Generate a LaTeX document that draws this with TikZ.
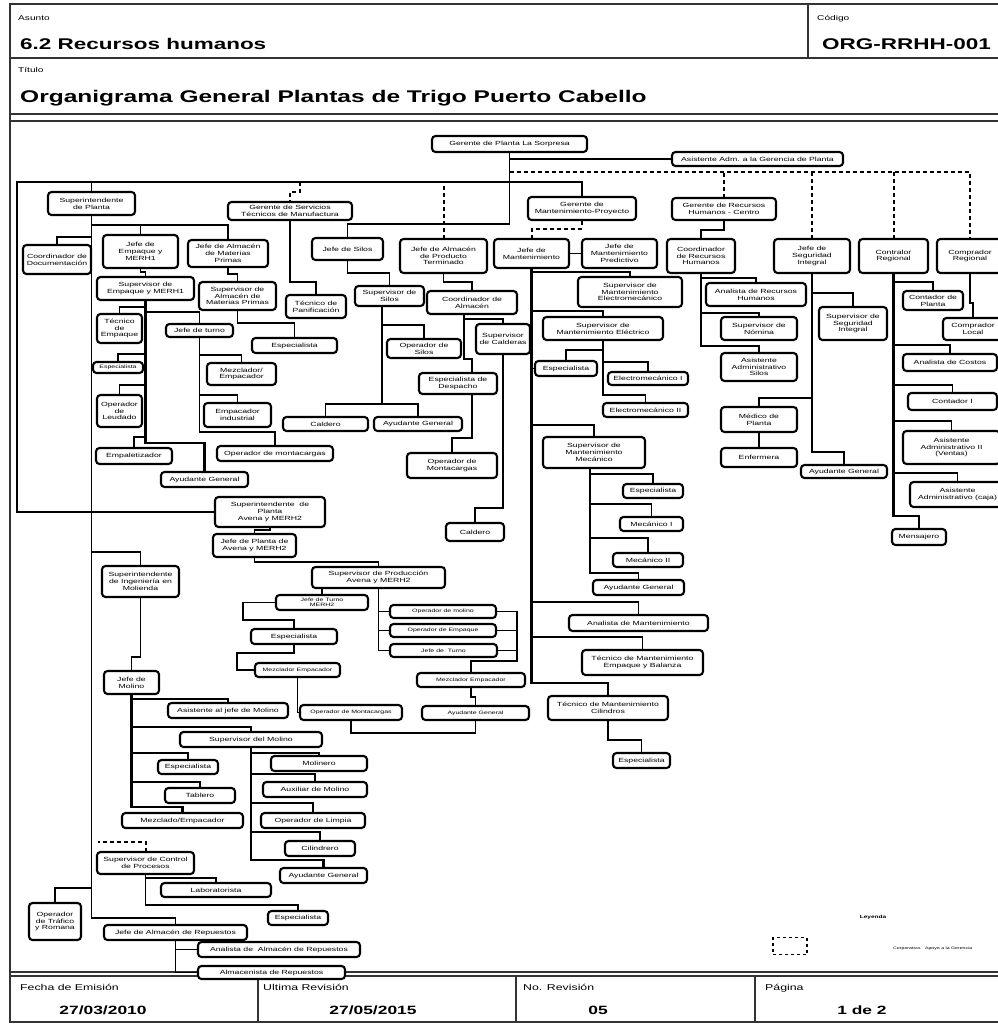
\documentclass[tikz,border=0pt]{standalone}
\usepackage{fontspec}
\setmainfont{Liberation Sans}[FakeStretch=1.45]
\usetikzlibrary{calc}
\pgfdeclarelayer{bg}
\pgfsetlayers{bg,main}
\tikzset{
  bx/.style={draw=black, line width=2.1pt, rounded corners=3.5pt, fill=white, inner sep=0pt, outer sep=0pt, align=center, font=\fontsize{6}{6.8}\selectfont},
  sm/.style={font=\fontsize{4.8}{5.5}\selectfont},
  ln/.style={line width=1.9pt},
  lnb/.style={line width=2.6pt},
  dsh/.style={line width=2pt, dash pattern=on 4pt off 3pt},
  frm/.style={line width=1.8pt, draw=black!80},
  lbl/.style={anchor=base west, inner sep=0pt},
}
\newcommand{\bx}[7][]{%
  \pgfmathsetmacro{\bxw}{#5-#3}\pgfmathsetmacro{\bxh}{#6-#4}%
  \pgfmathsetmacro{\bxx}{(#3+#5)/2}\pgfmathsetmacro{\bxy}{(#4+#6)/2}%
  \node[bx,#1,minimum width=\bxw pt,minimum height=\bxh pt] (#2) at (\bxx,\bxy) {#7};}
\begin{document}
\begin{tikzpicture}[x=1pt,y=-1pt]
\useasboundingbox (0,0) rectangle (998,1025);
\clip (0,0) rectangle (998,1025);

% ---------- header / footer text ----------
\node[lbl, font=\fontsize{7}{8}\selectfont] (tasunto) at (18,21) {Asunto};
\node[lbl, font=\bfseries\fontsize{15.5}{17}\selectfont] (tsub) at (20,49) {6.2 Recursos humanos};
\node[lbl, font=\fontsize{7}{8}\selectfont] (tcod) at (817,21) {Código};
\node[lbl, font=\bfseries\fontsize{15.5}{17}\selectfont] (tcodv) at (822,49) {ORG-RRHH-001};
\node[lbl, font=\fontsize{7}{8}\selectfont] (ttit) at (18,72) {Título};
\node[lbl, font=\bfseries\fontsize{16.9}{18}\selectfont] (ttitv) at (20,102) {Organigrama General Plantas de Trigo Puerto Cabello};

\node[lbl, font=\fontsize{8.5}{9}\selectfont] (f1) at (20,990) {Fecha de Emisión};
\node[lbl, font=\fontsize{8.5}{9}\selectfont] (f2) at (263,990) {Ultima Revisión};
\node[lbl, font=\fontsize{8.5}{9}\selectfont] (f3) at (523,990) {No. Revisión};
\node[lbl, font=\fontsize{8.5}{9}\selectfont] (f4) at (765,990) {Página};
\node[anchor=base, inner sep=0pt, font=\bfseries\fontsize{12}{13}\selectfont] (v1) at (103,1014) {27/03/2010};
\node[anchor=base, inner sep=0pt, font=\bfseries\fontsize{12}{13}\selectfont] (v2) at (373,1014) {27/05/2015};
\node[anchor=base, inner sep=0pt, font=\bfseries\fontsize{12}{13}\selectfont] (v3) at (598,1014) {05};
\node[anchor=base, inner sep=0pt, font=\bfseries\fontsize{12}{13}\selectfont] (v4) at (862,1014) {1 de 2};

% ---------- boxes ----------
\bx{gp}{432}{136}{587}{152}{Gerente de Planta La Sorpresa}
\bx{asis}{672}{152}{843}{166}{Asistente Adm. a la Gerencia de Planta}
\bx{supP}{48}{192}{135}{215}{Superintendente\\de Planta}
\bx{gst}{228}{202}{352}{220}{Gerente de Servicios\\Técnicos de Manufactura}
\bx{gmp}{528}{197}{636}{220}{Gerente de\\Mantenimiento-Proyecto}
\bx{grh}{672}{198}{776}{220}{Gerente de Recursos\\Humanos - Centro}
\bx{cdoc}{23}{245}{91}{274}{Coordinador de\\Documentación}
\bx{jemp}{103}{235}{178}{268}{Jefe de\\Empaque y\\MERH1}
\bx{jamp}{188}{240}{268}{267}{Jefe de Almacén\\de Materias\\Primas}
\bx{jsil}{312}{238}{383}{260}{Jefe de Silos}
\bx{japt}{400}{239}{487}{273}{Jefe de Almacén\\de Producto\\Terminado}
\bx{jman}{494}{239}{569}{268}{Jefe de\\Mantenimiento}
\bx{jmpr}{582}{239}{657}{268}{Jefe de\\Mantenimiento\\Predictivo}
\bx{crh}{667}{239}{735}{273}{Coordinador\\de Recursos\\Humanos}
\bx{jseg}{774}{239}{850}{273}{Jefe de\\Seguridad\\Integral}
\bx{creg}{859}{239}{928}{273}{Contralor\\Regional}
\bx{cpreg}{937}{239}{1003}{273}{Comprador\\Regional}

\bx{supemp}{97}{277}{194}{300}{Supervisor de\\Empaque y MERH1}
\bx{supamp}{199}{282}{276}{310}{Supervisor de\\Almacén de\\Materias Primas}
\bx{tpan}{286}{295}{346}{318}{Técnico de\\Panificación}
\bx{supsil}{355}{286}{424}{306}{Supervisor de\\Silos}
\bx{calm}{427}{291}{517}{314}{Coordinador de\\Almacén}
\bx{smelm}{578}{277}{682}{307}{Supervisor de\\Mantenimiento\\Electromecánico}
\bx{arh}{706}{283}{806}{306}{Analista de Recursos\\Humanos}
\bx{sseg}{819}{307}{887}{340}{Supervisor de\\Seguridad\\Integral}
\bx{cpla}{903}{291}{963}{310}{Contador de\\Planta}
\bx{cloc}{943}{318}{1003}{340}{Comprador\\Local}

\bx{supnom}{721}{317}{797}{340}{Supervisor de\\Nómina}
\bx{smele}{543}{317}{663}{340}{Supervisor de\\Mantenimiento Eléctrico}
\bx{tem}{97}{314}{142}{343}{Técnico\\de\\Empaque}
\bx{jtur}{166}{324}{233}{337}{Jefe de turno}
\bx{supcal}{476}{324}{530}{354}{Supervisor\\de Calderas}
\bx{esp1}{252}{338}{337}{353}{Especialista}
\bx{osil}{387}{339}{461}{358}{Operador de\\Silos}
\bx{aas}{721}{353}{797}{381}{Asistente\\Administrativo\\Silos}
\bx{acos}{903}{354}{997}{371}{Analista de Costos}
\bx[sm]{esp2}{93}{362}{143}{373}{Especialista}
\bx{mez1}{207}{363}{276}{385}{Mezclador/\\Empacador}
\bx{esp3}{535}{361}{597}{376}{Especialista}
\bx{edesp}{419}{373}{497}{394}{Especialista de\\Despacho}
\bx{elm1}{608}{372}{688}{385}{Electromecánico I}
\bx{cont1}{908}{393}{997}{410}{Contador I}
\bx{oleu}{97}{395}{142}{427}{Operador\\de\\Leudado}
\bx{eind}{204}{403}{271}{427}{Empacador\\industrial}
\bx{elm2}{603}{403}{688}{417}{Electromecánico II}
\bx{med}{721}{407}{797}{432}{Médico de\\Planta}
\bx{cald1}{283}{417}{368}{431}{Caldero}
\bx{ayg1}{374}{417}{462}{431}{Ayudante General}
\bx{aa2}{903}{431}{1000}{464}{Asistente\\Administrativo II\\(Ventas)}
\bx{smec}{543}{437}{645}{468}{Supervisor de\\Mantenimiento\\Mecánico}
\bx{omon1}{217}{446}{333}{461}{Operador de montacargas}
\bx{empal}{96}{448}{172}{464}{Empaletizador}
\bx{enf}{721}{448}{797}{467}{Enfermera}
\bx{omon2}{407}{453}{497}{478}{Operador de\\Montacargas}
\bx{ayg2}{801}{465}{887}{478}{Ayudante General}
\bx{ayg3}{161}{472}{248}{487}{Ayudante General}
\bx{aac}{910}{482}{1005}{507}{Asistente\\Administrativo (caja)}
\bx{esp4}{623}{484}{683}{498}{Especialista}
\bx{supav}{215}{497}{325}{527}{Superintendente~ de\\Planta\\Avena y MERH2}
\bx{mec1}{620}{517}{683}{531}{Mecánico I}
\bx{cald2}{446}{523}{504}{541}{Caldero}
\bx{mens}{892}{529}{946}{545}{Mensajero}
\bx{jpav}{213}{534}{296}{557}{Jefe de Planta de\\Avena y MERH2}
\bx{mec2}{613}{553}{683}{567}{Mecánico II}
\bx{sinm}{102}{566}{179}{597}{Superintendente\\de Ingeniería en\\Molienda}
\bx{sprod}{312}{567}{445}{588}{Supervisor de Producción\\Avena y MERH2}
\bx{ayg4}{593}{580}{684}{595}{Ayudante General}
\bx[sm]{jtm}{276}{595}{368}{610}{Jefe de Turno\\MERH2}
\bx[sm]{omol}{390}{605}{496}{618}{Operador de molino}
\bx{aman}{569}{615}{708}{631}{Analista de Mantenimiento}
\bx[sm]{oemp}{390}{624}{496}{637}{Operador de Empaque}
\bx{esp5}{251}{629}{337}{644}{Especialista}
\bx[sm]{jt2}{390}{644}{497}{657}{Jefe de~ Turno}
\bx{tmeb}{582}{650}{703}{675}{Técnico de Mantenimiento\\Empaque y Balanza}
\bx[sm]{mez2}{255}{663}{340}{677}{Mezclador Empacador}
\bx{jmol}{104}{671}{159}{694}{Jefe de\\Molino}
\bx[sm]{mez3}{417}{673}{525}{687}{Mezclador Empacador}
\bx{tmc}{548}{696}{668}{720}{Técnico de Mantenimiento\\Cilindros}
\bx{asjm}{168}{703}{288}{718}{Asistente al jefe de Molino}
\bx[sm]{omon3}{300}{705}{402}{720}{Operador de Montacargas}
\bx[sm]{ayg5}{422}{706}{529}{720}{Ayudante General}
\bx{supmol}{180}{732}{322}{747}{Supervisor del Molino}
\bx{esp6}{613}{753}{670}{768}{Especialista}
\bx{moli}{271}{756}{367}{771}{Molinero}
\bx{esp7}{158}{760}{218}{774}{Especialista}
\bx{auxm}{263}{782}{367}{797}{Auxiliar de Molino}
\bx{tab}{165}{788}{235}{803}{Tablero}
\bx{olim}{261}{813}{365}{828}{Operador de Limpia}
\bx{mezc}{122}{813}{243}{828}{Mezclado/Empacador}
\bx{cil}{285}{841}{355}{856}{Cilindrero}
\bx{scp}{97}{852}{194}{874}{Supervisor de Control\\de Procesos}
\bx{ayg6}{280}{868}{367}{883}{Ayudante General}
\bx{lab}{161}{883}{271}{897}{Laboratorista}
\bx{otr}{29}{903}{81}{940}{Operador\\de Tráfico\\y Romana}
\bx{esp8}{268}{911}{328}{925}{Especialista}
\bx{jar}{104}{925}{247}{940}{Jefe de Almacén de Repuestos}
\bx{anar}{198}{942}{360}{957}{Analista de~ Almacén de Repuestos}
\bx{alr}{198}{966}{345}{979}{Almacenista de Repuestos}

% legend
\node[inner sep=0pt, font=\bfseries\fontsize{4.5}{5}\selectfont] (ley) at (873,917) {Leyenda};
\node[draw, line width=1.6pt, dash pattern=on 3pt off 3pt, minimum width=34pt, minimum height=17pt, inner sep=0pt] (legbox) at (790,946) {};
\node[anchor=west, inner sep=0pt, font=\fontsize{3.6}{4}\selectfont] (legtxt) at (893,949) {Corporativo.~ Apoyo a la Gerencia};

% ---------- lines (background) ----------
\begin{pgfonlayer}{bg}
\fill[white] (0,0) rectangle (998,1025);
\draw[frm] (10,4) rectangle (1010,1022);
\draw[frm] (10,58) -- (1010,58);
\draw[frm] (808,4) -- (808,58);
\draw[frm] (10,114) -- (1010,114);
\draw[frm] (10,121) -- (1010,121);
\draw[frm, line width=2.4pt] (10,972) -- (1010,972);
\draw[frm] (10,976) -- (1010,976);
\draw[frm] (258,976) -- (258,1022);
\draw[frm] (516,976) -- (516,1022);
\draw[frm] (755,976) -- (755,1022);

% top level
\draw[ln] (gp.south) -- (gp.south |- 0,224) -| (jsil.north);
\draw[ln] (gp.south |- asis.west) -- (asis.west);
\draw[ln] (supav.west) -| (17,182) -| (gmp.north);
\draw[ln] (supP.north) -- (supP.north |- 0,182);
\draw[dsh] (japt.north) -- (japt.north |- 0,182);
\draw[dsh] (300,182) -- (300,192) -| (gst.north);
\draw[dsh] (gp.south |- 0,172) -- (cpreg.north |- 0,172) -- (cpreg.north);
\draw[dsh] (grh.north) -- (grh.north |- 0,172);
\draw[dsh] (jseg.north) -- (jseg.north |- 0,172);
\draw[dsh] (creg.north) -- (creg.north |- 0,172);
\draw[ln] (gmp.south) -- ++(0,5);
\draw[dsh] (gmp.south) ++(0,9) -| (jman.north);
\draw[ln] (jman) -- (jmpr);

% Superintendente de Planta
\draw[ln] (supP.south) -- (supP.south |- 0,918) -| (jar.north);
\draw[ln] (supP.south |- 0,237) -| (cdoc.north);
\draw[ln] (supP.south |- 0,225) -| (jamp.north);
\draw[ln] (jemp.north) -- (jemp.north |- 0,225);
\draw[ln] (supP.south |- 0,552) -| (sinm.north);
\draw[ln] (supP.south |- 0,888) -| (otr.north);
\draw[ln] (jemp.south) -- ++(0,4) -| (supemp.north);
\draw[ln] (jamp.south) -- ++(0,7) -| (supamp.north);
\draw[ln] (supamp.south) -- ++(0,13) -| (esp1.north);

% Supervisor de Empaque
\draw[lnb] (supemp.south) -- (supemp.south |- 0,443) -| (ayg3.north);
\draw[ln] (supemp.south |- 0,307) -| (tem.north);
\draw[ln] (supemp.south |- 0,312) -| (jtur.north);
\draw[ln] (supemp.south |- 0,354) -| (esp2.north);
\draw[ln] (supemp.south |- 0,385) -| (oleu.north);
\draw[ln] (supemp.south |- 0,437) -| (empal.north);
\draw[ln] (jtur.south) -- (jtur.south |- 0,432) -| (omon1.north);
\draw[ln] (jtur.south |- 0,355) -| (mez1.north);
\draw[ln] (jtur.south |- 0,395) -| (eind.north);

% Gerente de Servicios
\draw[ln] (gst.south) -- (gst.south |- 0,282) -| (tpan.north);

% Silos
\draw[ln] (jsil.south) -- ++(0,13) -| (supsil.north);
\draw[ln] (supsil.south -| 382,0) -- (382,404);
\draw[ln] (382,325) -| (osil.north);
\draw[ln] (cald1.north) -- ++(0,-13) -| (ayg1.north);

% Almacen de Producto Terminado
\draw[ln] (japt.south) -- ++(0,9) -| (calm.north);
\draw[ln] (calm.south -| 464,0) -- (464,359) -| (edesp.north -| 472,0);
\draw[ln] (464,319) -| (supcal.north);
\draw[ln] (edesp.south -| 472,0) -- (472,438) -| (omon2.north);
\draw[ln] (supcal.south) -- (supcal.south |- 0,508) -| (cald2.north);

% Mantenimiento
\draw[lnb] (jman.south) -- (jman.south |- 0,683) -| (tmc.north);
\draw[ln] (jman.south |- 0,272) -| (smelm.north);
\draw[ln] (jman.south |- 0,311) -| (smele.north);
\draw[ln] (jman.south |- esp3.west) -- (esp3.west);
\draw[ln] (jman.south |- 0,425) -| (smec.north);
\draw[ln] (jman.south |- 0,602) -| (aman.north);
\draw[ln] (jman.south |- 0,637) -| (tmeb.north);
\draw[ln] (smele.south) -- (smele.south |- 0,395) -| (elm2.north);
\draw[ln] (smele.south |- 0,350) -| (esp3.north);
\draw[ln] (smele.south |- 0,362) -| (elm1.north);
\draw[ln] (smec.south -| 590,0) -- (590,573) -| (ayg4.north);
\draw[ln] (590,474) -| (esp4.north);
\draw[ln] (590,504) -| (mec1.north);
\draw[ln] (590,538) -| (mec2.north);
\draw[ln] (tmc.south) -- (tmc.south |- 0,740) -| (esp6.north);

% Avena
\draw[ln] (supav.south) -- ++(0,3) -| (jpav.north);
\draw[ln] (jpav.south) -- ++(0,5) -| (sprod.north);
\draw[ln] (sprod.south) |- (jt2.west);
\draw[ln] (sprod.south |- omol.west) -- (omol.west);
\draw[ln] (sprod.south |- oemp.west) -- (oemp.west);
\draw[ln] (jtm.north) -- (jtm.north |- sprod.south);
\draw[ln] (omol.east) -| (517,661) -| (mez3.north);
\draw[ln] (oemp.east) -- (oemp.east -| 517,0);
\draw[ln] (jt2.east) -- (jt2.east -| 517,0);
\draw[ln] (mez3.south) -- ++(0,10) -| (ayg5.north);
\draw[ln] (jtm.west) -| (243,620) -| (esp5.north);
\draw[ln] (esp5.south) |- (237,653) |- (mez2.west);
\draw[ln] (mez2.south) |- (omon3.west);
\draw[ln] (omon3.south) -- ++(0,13) -| (ayg5.south);

% Molienda
\draw[ln] (sinm.south) -- ++(0,60) -| (jmol.north);
\draw[lnb] (jmol.south) -- (jmol.south |- 0,807) -| (mezc.north);
\draw[ln] (jmol.south |- 0,699) -| (asjm.north);
\draw[ln] (jmol.south |- 0,727) -| (supmol.north);
\draw[ln] (jmol.south |- 0,753) -| (esp7.north);
\draw[ln] (jmol.south |- 0,782) -| (tab.north);
\draw[lnb] (supmol.south) -- (supmol.south |- 0,860) -| (ayg6.north);
\draw[ln] (supmol.south |- 0,753) -| (moli.north);
\draw[ln] (supmol.south |- 0,774) -| (auxm.north);
\draw[ln] (supmol.south |- 0,803) -| (olim.north);
\draw[ln] (supmol.south |- 0,832) -| (cil.north);

% Control de procesos
\draw[dsh] (scp.north) -- ++(0,-10) -- ++(-48,0);
\draw[ln] (scp.south) -- (scp.south |- 0,905) -| (esp8.north);
\draw[ln] (scp.south |- 0,878) -| (lab.north);

% Repuestos
\draw[ln] (jar.south) |- (alr.west);
\draw[ln] (jar.south |- anar.west) -- (anar.west);

% RRHH
\draw[ln] (grh.south) -- ++(0,10) -| (crh.north);
\draw[ln] (crh.south) -- (crh.south |- 0,346) -| (aas.north);
\draw[ln] (crh.south |- 0,278) -| (arh.north);
\draw[ln] (crh.south |- 0,313) -| (supnom.north);

% Seguridad
\draw[ln] (jseg.south) -- (jseg.south |- 0,452) -| (ayg2.north);
\draw[ln] (jseg.south |- 0,293) -| (sseg.north);
\draw[ln] (jseg.south |- 0,398) -| (med.north);
\draw[ln] (med) -- (enf);

% Contralor
\draw[lnb] (creg.south) -- (creg.south |- 0,516) -| (mens.north);
\draw[ln] (creg.south |- 0,282) -| (cpla.north);
\draw[ln] (creg.south |- 0,345) -| (acos.north);
\draw[ln] (creg.south |- 0,385) -| (cont1.north);
\draw[ln] (creg.south |- 0,421) -| (aa2.north);
\draw[ln] (creg.south |- 0,473) -| (aac.north);

% Comprador
\draw[ln] (cpreg.south) -- ++(0,30) -| (cloc.north);
\end{pgfonlayer}
\end{tikzpicture}
\end{document}
